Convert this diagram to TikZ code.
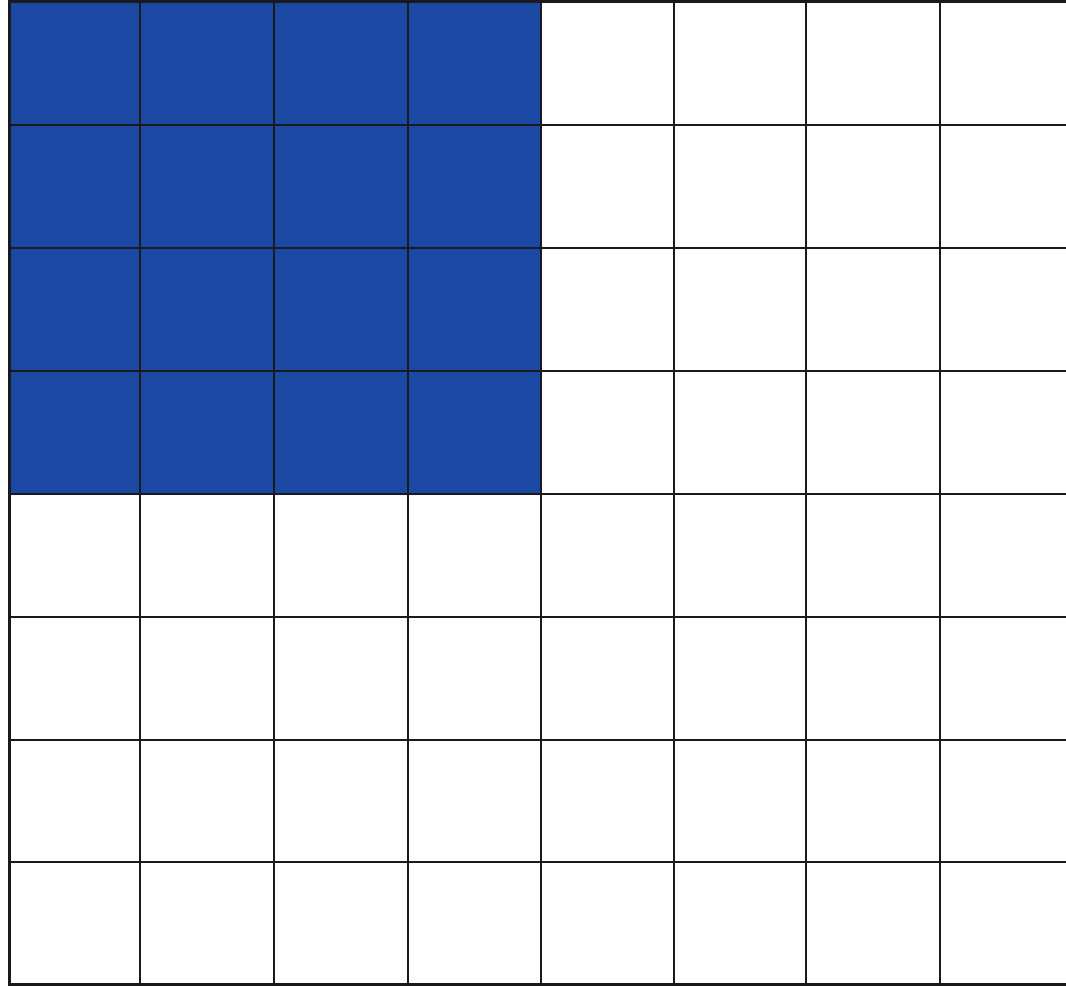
\documentclass[tikz,border=0pt]{standalone}
\definecolor{gridblue}{RGB}{26,72,162}
\definecolor{gridline}{RGB}{25,25,30}
\begin{document}
\begin{tikzpicture}[x=1pt,y=1pt,
  inner/.style={draw=gridline,line width=1.6pt},
  outer/.style={draw=gridline,line width=3pt}]
\useasboundingbox (0,0) rectangle (1066,987);
\fill[white] (0,0) rectangle (1066,987);
\clip (0,0) rectangle (1066,987);
% blue block (top-left 4x4)
\fill[gridblue] (9,985) rectangle (541,494);
% vertical lines
\foreach \x in {140,274,408,541,674,806,940}
  \draw[inner] (\x,2) -- (\x,985);
% horizontal lines
\foreach \y in {125,248,371,494,617,740,862}
  \draw[inner] (9,987-\y) -- (1070,987-\y);
% outer border (left, top, bottom; right side runs off the page)
\draw[outer] (1070,985) -- (9,985) -- (9,2) -- (1070,2);
\end{tikzpicture}
\end{document}
